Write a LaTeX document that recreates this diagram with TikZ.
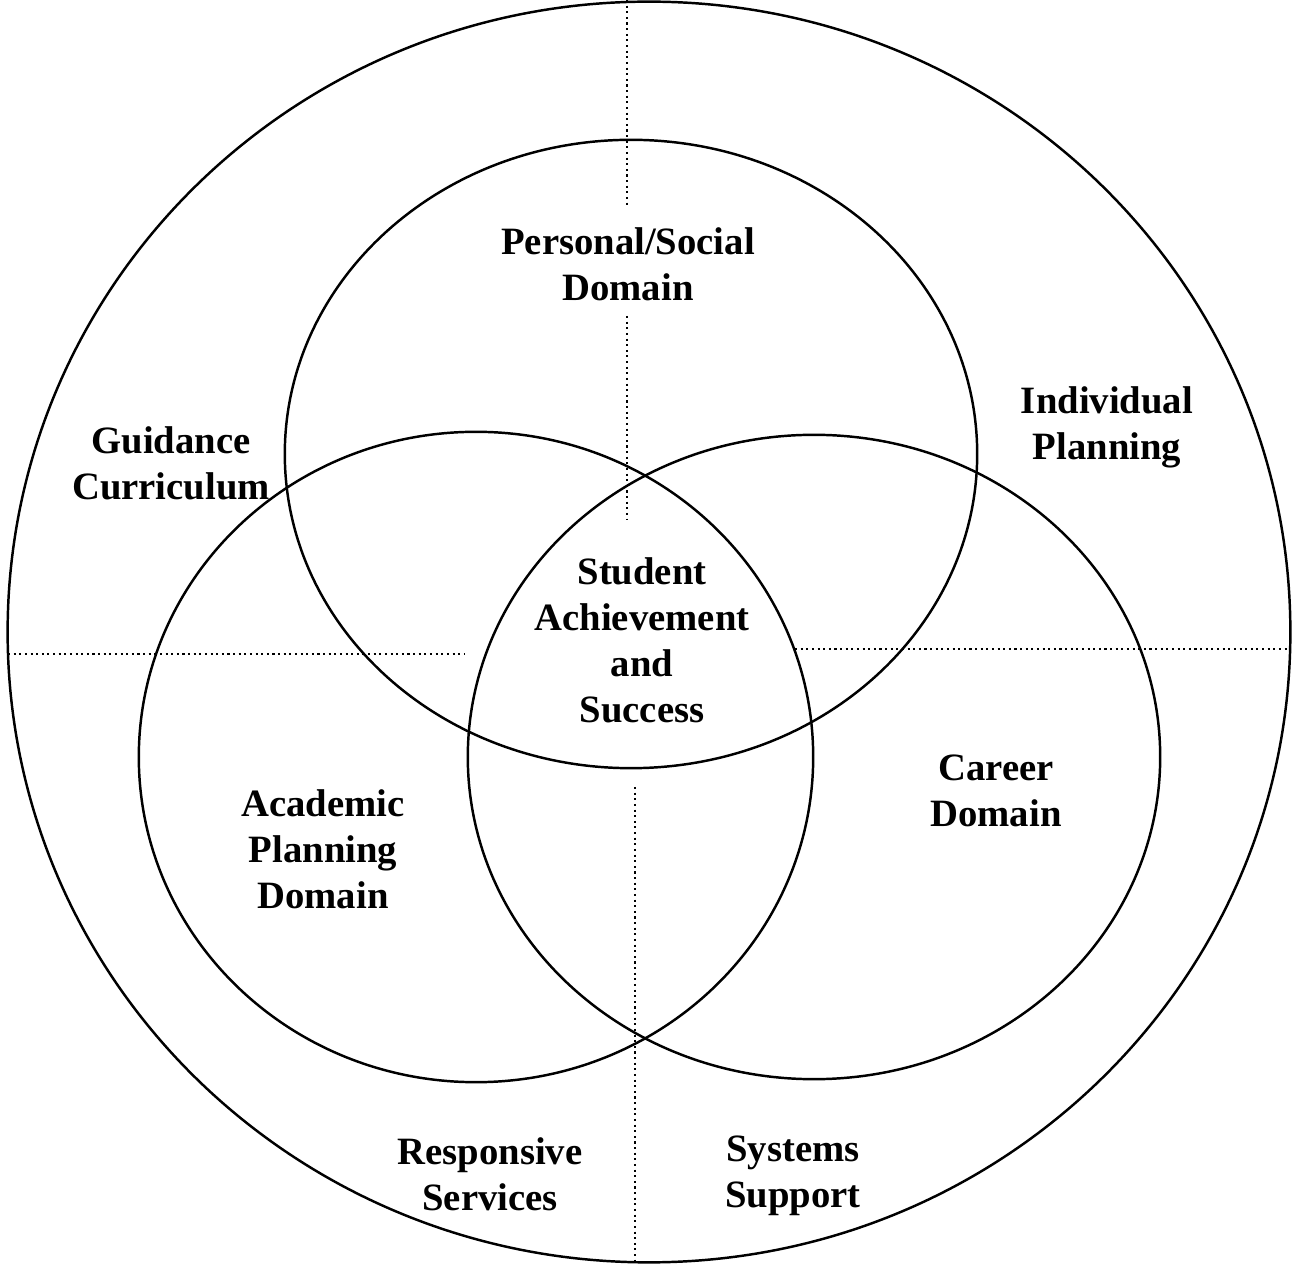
\documentclass[tikz,border=0pt]{standalone}
\usepackage{fontspec}
\setmainfont{Liberation Serif}
\tikzset{
  ring/.style={line width=0.7pt},
  quadline/.style={densely dotted, line width=0.6pt},
  txt/.style={font=\bfseries\fontsize{11}{13.1}\selectfont, align=center}
}
\begin{document}
\begin{tikzpicture}[x=0.01cm, y=-0.01cm]
  \useasboundingbox (0,0) rectangle (1296,1264);

  % Outer circle
  \draw[ring] (649,632) ellipse [x radius=6.41cm, y radius=6.30cm];

  % Domain circles
  \draw[ring] (631,454) ellipse [x radius=3.46cm, y radius=3.14cm];
  \draw[ring] (476,757) ellipse [x radius=3.37cm, y radius=3.25cm];
  \draw[ring] (814,757) ellipse [x radius=3.46cm, y radius=3.22cm];

  % Quadrant lines
  \draw[quadline] (627,0) -- (627,207);
  \draw[quadline] (627,316) -- (627,520);
  \draw[quadline] (635,787) -- (635,1264);
  \draw[quadline] (8,654) -- (465,654);
  \draw[quadline] (795,649) -- (1290,649);

  % Labels
  \node[txt] (personal) at (628,264) {Personal/Social\\Domain};
  \node[txt] (guidance) at (171,463) {Guidance\\Curriculum};
  \node[txt] (individual) at (1107,427) {Individual\\Planning};
  \node[txt] (student) at (642,640) {Student\\Achievement\\and\\Success};
  \node[txt] (academic) at (323,849) {Academic\\Planning\\Domain};
  \node[txt] (career) at (996,791) {Career\\Domain};
  \node[txt] (responsive) at (490,1174) {Responsive\\Services};
  \node[txt] (systems) at (793,1176) {Systems\\Support};
\end{tikzpicture}
\end{document}
